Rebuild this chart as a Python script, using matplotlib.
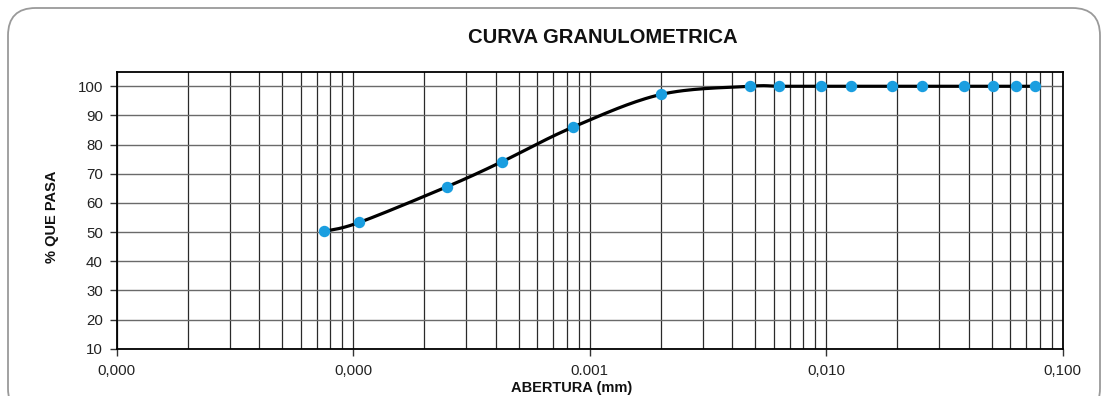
import numpy as np
import matplotlib
matplotlib.use("Agg")
import matplotlib.pyplot as plt
from matplotlib.patches import FancyBboxPatch
from matplotlib.ticker import FixedLocator, FixedFormatter, LogLocator, NullFormatter

# ---- data ----
abertura = [0.000075, 0.000106, 0.000250, 0.000425, 0.000850, 0.002000,
            0.004750, 0.006300, 0.009525, 0.012700, 0.019050, 0.025400,
            0.038100, 0.050800, 0.063500, 0.076200]
pasa = [50.2, 53.3, 65.6, 74.1, 86.0, 97.2,
        100.0, 100.0, 100.0, 100.0, 100.0, 100.0,
        100.0, 100.0, 100.0, 100.0]
x_ticks = [0.00001, 0.0001, 0.001, 0.01, 0.1]
x_tick_labels = ["0,000", "0,000", "0.001", "0,010", "0,100"]
y_ticks = [10, 20, 30, 40, 50, 60, 70, 80, 90, 100]
title = "CURVA GRANULOMETRICA"
xlabel = "ABERTURA (mm)"
ylabel = "% QUE PASA"

plt.rcParams['font.family'] = ['Liberation Sans', 'DejaVu Sans']

W, H = 1103, 396
fig = plt.figure(figsize=(W / 100, H / 100), dpi=100)

l, r, t, b = 116.7, 1062.7, 71.7, 348.7
ax = fig.add_axes([l / W, 1 - b / H, (r - l) / W, (b - t) / H])
ax.set_zorder(2)
ax.set_xscale('log')
ax.set_xlim(1e-5, 1e-1)
ax.set_ylim(10, 105)

# outer rounded frame
frame = FancyBboxPatch((8 / W, -20 / H), (1092 / W), (408 / H),
                       boxstyle="round,pad=0,rounding_size=0.025",
                       transform=fig.transFigure, facecolor='none',
                       edgecolor='#9a9a9a', linewidth=1.3, zorder=-1,
                       mutation_aspect=W / H)
fig.patches.append(frame)

# smooth curve (spreadsheet-style Catmull-Rom Bezier) in log-x space
lx = np.log10(np.array(abertura))
yy = np.array(pasa)
pts = np.column_stack([lx, yy])
n = len(pts)
tt = np.linspace(0, 1, 30)[:, None]
curve = []
for i in range(n - 1):
    p0 = pts[i - 1] if i > 0 else pts[i]
    p1 = pts[i]
    p2 = pts[i + 1]
    p3 = pts[i + 2] if i + 2 < n else pts[i + 1]
    c1 = p1 + (p2 - p0) / 6.0
    c2 = p2 - (p3 - p1) / 6.0
    seg = ((1 - tt) ** 3) * p1 + 3 * ((1 - tt) ** 2) * tt * c1 \
        + 3 * (1 - tt) * tt ** 2 * c2 + tt ** 3 * p2
    curve.append(seg if i == 0 else seg[1:])
curve = np.vstack(curve)
ax.plot(10 ** curve[:, 0], curve[:, 1], color='black', lw=2.3, zorder=3,
        solid_capstyle='round', solid_joinstyle='round')
ax.plot(abertura, pasa, linestyle='none', marker='o', markersize=7.2,
        markerfacecolor='#1a9ee0', markeredgecolor='#1a9ee0', zorder=4)

# ticks
ax.xaxis.set_major_locator(FixedLocator(x_ticks))
ax.xaxis.set_major_formatter(FixedFormatter(x_tick_labels))
ax.xaxis.set_minor_locator(LogLocator(base=10, subs=np.arange(2, 10), numticks=20))
ax.xaxis.set_minor_formatter(NullFormatter())
ax.set_yticks(y_ticks)
ax.tick_params(axis='both', which='major', length=5, width=1, color='#333',
               labelsize=10.8, pad=5, labelcolor='#222')
ax.tick_params(axis='x', which='minor', length=0)
ax.tick_params(axis='x', which='major', pad=6)

ax.grid(True, axis='x', which='both', color='#2a2a2a', lw=0.9, zorder=1)
ax.grid(True, axis='y', which='major', color='#6a6a6a', lw=1.0, zorder=1)
ax.set_axisbelow(True)
for s in ax.spines.values():
    s.set_color('black')
    s.set_linewidth(1.3)

fig.text(603 / W, 1 - 43 / H, title, ha='center', va='baseline',
         fontsize=14.6, fontweight='bold', color='#111')
fig.text(572 / W, 1 - 392 / H, xlabel, ha='center', va='baseline',
         fontsize=10.5, fontweight='bold', color='#111')
fig.text(52 / W, 1 - 216.7 / H, ylabel, ha='center', va='center',
         rotation=90, fontsize=10.5, fontweight='bold', color='#111')

fig.savefig('out.png', dpi=100)
